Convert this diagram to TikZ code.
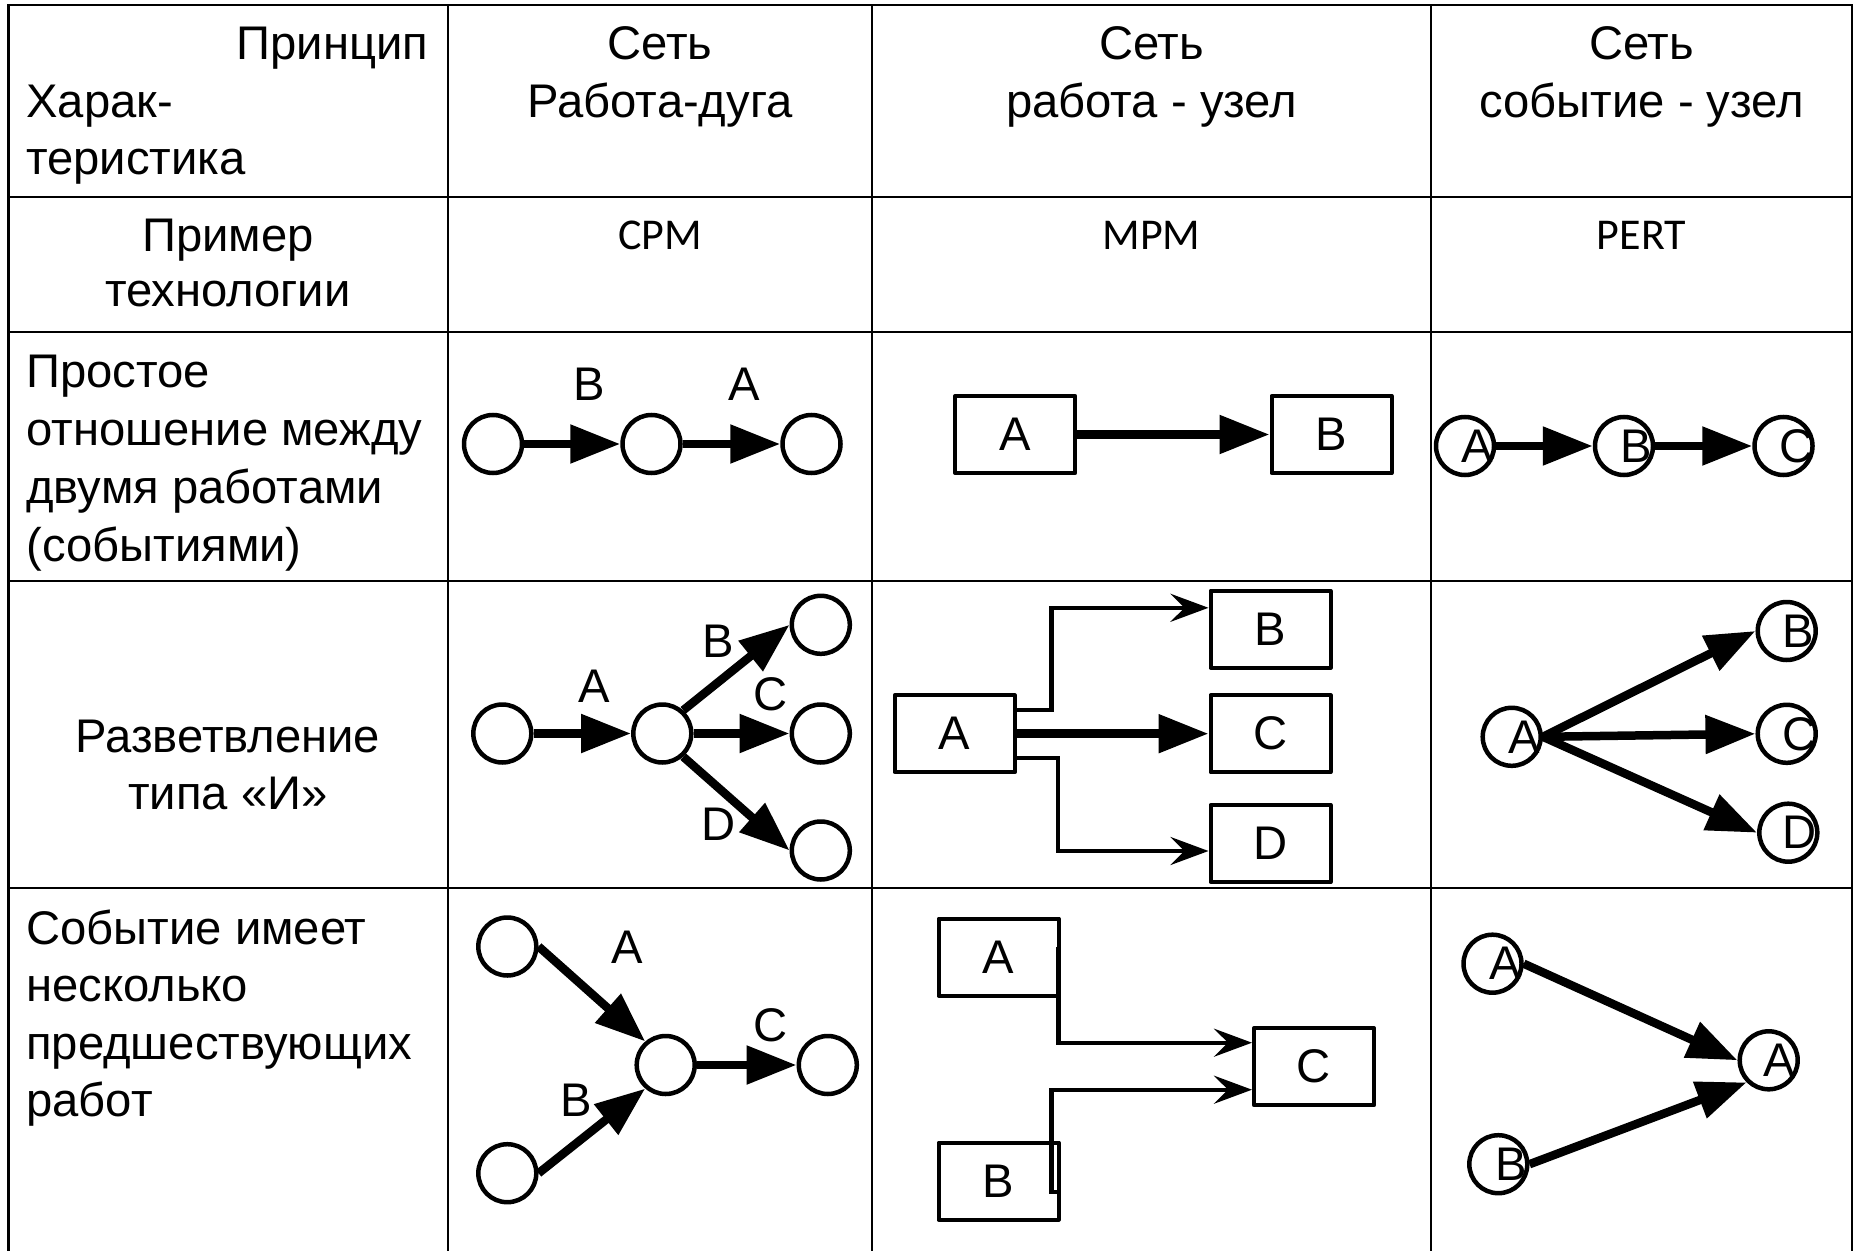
\documentclass[tikz,border=0pt]{standalone}
\usepackage{fontspec}
\setmainfont{Liberation Sans}
\newfontfamily\calfont{Carlito}
\usetikzlibrary{arrows.meta,calc}

\begin{document}
\begin{tikzpicture}[x=0.5pt,y=-0.5pt,
  grid/.style={line width=1.35pt},
  txt/.style={inner sep=0pt,font=\fontsize{23.6pt}{28pt}\selectfont},
  tech/.style={inner sep=0pt,font=\calfont\fontsize{22pt}{26pt}\selectfont},
  ev/.style={circle,draw,line width=2.25pt,minimum size=29pt,inner sep=0pt},
  job/.style={rectangle,draw,line width=2pt,minimum width=60pt,minimum height=38.5pt,
    inner sep=0pt,line join=round,font=\fontsize{23.6pt}{28pt}\selectfont},
  lbl/.style={inner sep=0pt,font=\fontsize{23.6pt}{28pt}\selectfont},
  work/.style={line width=4.25pt,-{Triangle[length=25pt,width=18.5pt]}},
  link/.style={line width=2.2pt,-{Stealth[length=19pt,width=14pt,inset=7pt]}},
]
\useasboundingbox (0,0) rectangle (1856,1251);

% table grid
\draw[grid] (8.5,1262) -- (8.5,5) -- (1852,5) -- (1852,1262);
\foreach \y in {197,332,581,888} \draw[grid] (8.5,\y) -- (1852,\y);
\foreach \x in {448,872,1431} \draw[grid] (\x,5) -- (\x,1262);

% header row
\node[txt,anchor=base east] (hPr) at (428.5,60) {Принцип};
\node[txt,anchor=base west] (hXa) at (26,117.5) {Харак-};
\node[txt,anchor=base west] (hTe) at (26,175) {теристика};
\node[txt,anchor=base] (h2a) at (660,60) {Сеть};
\node[txt,anchor=base] (h2b) at (660,117.5) {Работа-дуга};
\node[txt,anchor=base] (h3a) at (1151.5,60) {Сеть};
\node[txt,anchor=base] (h3b) at (1151.5,117.5) {работа - узел};
\node[txt,anchor=base] (h4a) at (1641.5,60) {Сеть};
\node[txt,anchor=base] (h4b) at (1641.5,117.5) {событие - узел};

% technology row
\node[txt,anchor=base] (t1a) at (228,252) {Пример};
\node[txt,anchor=base] (t1b) at (228,307) {технологии};
\node[tech,anchor=base] (t2) at (660,250) {CPM};
\node[tech,anchor=base] (t3) at (1151.5,250) {MPM};
\node[tech,anchor=base] (t4) at (1641.5,250) {PERT};

% row: simple relation
\node[txt,anchor=base west] (s1) at (26,387) {Простое};
\node[txt,anchor=base west] (s2) at (26,445) {отношение между};
\node[txt,anchor=base west] (s3) at (26,503) {двумя работами};
\node[txt,anchor=base west] (s4) at (26,561) {(событиями)};

\node[ev] (r3c1) at (493,444) {};
\node[ev] (r3c2) at (651.5,444) {};
\node[ev] (r3c3) at (811.5,444) {};
\draw[work] (r3c1) -- (r3c2);
\draw[work] (r3c2) -- (r3c3);
\node[lbl] (r3lB) at (589,384) {B};
\node[lbl] (r3lA) at (744,384) {A};

\node[job] (r3bA) at (1015.2,434.5) {A};
\node[job] (r3bB) at (1331.5,434.5) {B};
\draw[work] (r3bA) -- (r3bB);

\node[ev] (r3p1) at (1465,446) {};
\node[ev] (r3p2) at (1624,446) {};
\node[ev] (r3p3) at (1783.5,446) {};
\node[lbl] (r3p1t) at ([xshift=6pt]r3p1) {A};
\node[lbl] (r3p2t) at ([xshift=6pt]r3p2) {B};
\node[lbl] (r3p3t) at ([xshift=6.5pt]r3p3) {C};
\draw[work] (r3p1.east) -- (r3p2.west);
\draw[work] (r3p2.east) -- (r3p3.west);

% row: AND branching
\node[txt,anchor=base] (b1) at (228,752) {Разветвление};
\node[txt,anchor=base] (b2) at (228,809) {типа «И»};

\node[ev] (r4c1) at (502.3,733.5) {};
\node[ev] (r4c2) at (662.3,733.5) {};
\node[ev] (r4cB) at (820.8,624.8) {};
\node[ev] (r4cC) at (820.8,733.5) {};
\node[ev] (r4cD) at (820.8,850.5) {};
\draw[work] (r4c1) -- (r4c2);
\draw[work] (r4c2.48) -- (r4cB.west);
\draw[work] (r4c2) -- (r4cC);
\draw[work] (r4c2.-48) -- (r4cD.west);
\node[lbl] (r4lA) at (594.7,686) {A};
\node[lbl] (r4lB) at (718.7,641) {B};
\node[lbl] (r4lC) at (770.3,694.3) {C};
\node[lbl] (r4lD) at (718.7,824.3) {D};

\node[job] (r4bA) at (954.7,733.7) {A};
\node[job] (r4bB) at (1270.5,629.3) {B};
\node[job] (r4bC) at (1270.5,733.7) {C};
\node[job] (r4bD) at (1270.5,843.5) {D};
\coordinate (r4kB) at (1051.5,607.8);
\coordinate (r4kD) at (1057.7,851);
\draw[link] ($(r4bA.east)+(0,-23.7)$) -| (r4kB) -- (r4bB.west |- r4kB);
\draw[work] (r4bA) -- (r4bC);
\draw[link] ($(r4bA.east)+(0,24)$) -| (r4kD) -- (r4bD.west |- r4kD);

\node[ev] (r4pA) at (1511.7,736.8) {};
\node[ev] (r4pB) at (1786.7,631) {};
\node[ev] (r4pC) at (1786.7,733.8) {};
\node[ev] (r4pD) at (1788.3,832.7) {};
\node[lbl] (r4pAt) at ([xshift=6.5pt]r4pA) {A};
\node[lbl] (r4pBt) at ([xshift=6pt]r4pB) {B};
\node[lbl] (r4pCt) at ([xshift=6.5pt]r4pC) {C};
\node[lbl] (r4pDt) at ([xshift=5.5pt]r4pD) {D};
\draw[work] (r4pA.east) -- (r4pB.west);
\draw[work] (r4pA.east) -- (r4pC.west);
\draw[work] (r4pA.east) -- (r4pD.west);

% row: several preceding jobs
\node[txt,anchor=base west] (p1) at (26,944) {Событие имеет};
\node[txt,anchor=base west] (p2) at (26,1001.5) {несколько};
\node[txt,anchor=base west] (p3) at (26,1059) {предшествующих};
\node[txt,anchor=base west] (p4) at (26,1116.5) {работ};

\node[ev] (r5c1) at (507.3,946.5) {};
\node[ev] (r5c2) at (507.3,1173.2) {};
\node[ev] (r5c3) at (665.7,1065) {};
\node[ev] (r5c4) at (827.8,1065) {};
\draw[work] (r5c1.east) -- (r5c3.131);
\draw[work] (r5c2.east) -- (r5c3.229);
\draw[work] (r5c3) -- (r5c4);
\node[lbl] (r5lA) at (627.5,947) {A};
\node[lbl] (r5lB) at (576,1100) {B};
\node[lbl] (r5lC) at (770.3,1025) {C};

\node[job] (r5bA) at (998.5,957) {A};
\node[job] (r5bB) at (998.5,1181) {B};
\node[job] (r5bC) at (1314,1066.7) {C};
\coordinate (r5kA1) at ($(r5bA.east)+(-2,-10)$);
\coordinate (r5kA2) at ($(r5bA.east)+(-2,85.7)$);
\coordinate (r5kB1) at ($(r5bB.east)+(-2,11)$);
\coordinate (r5kB2) at ($(r5bB.east)+(-9,11)$);
\coordinate (r5kB3) at ($(r5bB.east)+(-9,-91.3)$);
\draw[link] (r5kA1) -- (r5kA2) -- (r5bC.west |- r5kA2);
\draw[link] (r5kB1) -- (r5kB2) -- (r5kB3) -- (r5bC.west |- r5kB3);

\node[ev] (r5pA) at (1492.5,963.7) {};
\node[ev] (r5pB) at (1498.3,1164.2) {};
\node[ev] (r5pT) at (1768.7,1060.3) {};
\node[lbl] (r5pAt) at ([xshift=6.25pt]r5pA) {A};
\node[lbl] (r5pBt) at ([xshift=6.25pt]r5pB) {B};
\node[lbl] (r5pTt) at ([xshift=5.5pt]r5pT) {A};
\draw[work] (r5pA.east) -- (r5pT.west);
\draw[work] (r5pB.east) -- (r5pT.225);
\end{tikzpicture}
\end{document}
